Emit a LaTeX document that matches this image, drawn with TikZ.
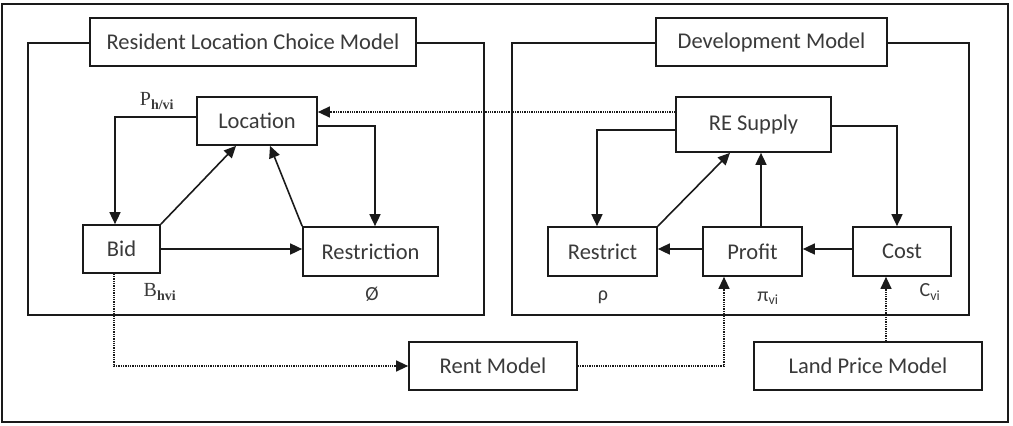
\documentclass[tikz,border=0pt]{standalone}
\usepackage{fontspec}
\setmainfont{Carlito}
\newfontfamily\serifface{Liberation Serif}
\usetikzlibrary{arrows.meta,calc,positioning}
\definecolor{inkLine}{HTML}{1A1A1A}
\definecolor{inkText}{HTML}{3A3A3A}
\tikzset{
  box/.style={draw=inkLine,line width=1.7pt,fill=white,inner sep=0pt,text=inkText,
    font=\fontsize{22.5}{27}\selectfont},
  grp/.style={draw=inkLine,line width=1.7pt},
  lbl/.style={inner sep=0pt,text=inkText,font=\fontsize{20}{24}\selectfont},
  arr/.style={-{Triangle[length=12pt,width=11pt]},line width=1.6pt,draw=inkLine},
  dotarr/.style={-{Triangle[length=12pt,width=11pt]},line width=1.3pt,densely dotted,draw=inkLine},
  dotln/.style={line width=1.3pt,densely dotted,draw=inkLine}
}

\begin{document}
\begin{tikzpicture}[x=1pt,y=-1pt]
  \useasboundingbox (0,0) rectangle (1013,426);
  \draw[line width=1.8pt,draw=inkLine] (2,4) rectangle (1008,422);

  % group frames
  \draw[grp] (28,43) rectangle (484,315);
  \draw[grp] (512,43) rectangle (969,315);
  \node[box,minimum width=326pt,minimum height=48pt] (resTitle) at (253,42) {Resident Location Choice Model};
  \node[box,minimum width=231pt,minimum height=48pt] (devTitle) at (771.5,42) {Development Model};

  % resident model
  \node[box,minimum width=120pt,minimum height=48pt] (loc) at (257,121) {Location};
  \node[box,minimum width=77pt,minimum height=48pt] (bid) at (121.5,249) {Bid};
  \node[box,minimum width=135pt,minimum height=49pt] (rst) at (370.5,251.5) {Restriction};

  % development model
  \node[box,minimum width=155pt,minimum height=55pt] (sup) at (753.5,124.5) {RE Supply};
  \node[box,minimum width=109pt,minimum height=49pt] (rsc) at (602.5,251.5) {Restrict};
  \node[box,minimum width=99pt,minimum height=49pt] (prf) at (752.5,251.5) {Profit};
  \node[box,minimum width=98pt,minimum height=49pt] (cost) at (902,251.5) {Cost};

  % outside models
  \node[box,minimum width=168pt,minimum height=48pt] (rent) at (493,366) {Rent Model};
  \node[box,minimum width=228pt,minimum height=48pt] (land) at (868,366) {Land Price Model};

  % variable labels
  \node[lbl] (pLbl) at (157,101) {\serifface P\textsubscript{\bfseries h/vi}};
  \node[lbl] (bLbl) at (160,292) {\serifface B\textsubscript{\bfseries hvi}};
  \node[lbl] (phiLbl) at (372,294) {Ø};
  \node[lbl] (rhoLbl) at (603,297) {ρ};
  \node[lbl] (piLbl) at (768,298) {π\textsubscript{vi}};
  \node[lbl] (cLbl) at (930,292) {C\textsubscript{vi}};

  \draw[arr] (loc.west |- 0,117) -| (bid.north -| 115,0);
  \draw[arr] (loc.east |- 0,126) -| (rst.north -| 375,0);
  \draw[arr] (bid.north east) -- (loc.south -| 236,0);
  \draw[arr] (rst.north west) -- (loc.south -| 270,0);
  \draw[arr] (bid.east |- 0,249) -- (rst.west |- 0,249);

  \draw[arr] (sup.west |- 0,130) -| (rsc.north -| 597,0);
  \draw[arr] (sup.east |- 0,126) -| (cost.north -| 897,0);
  \draw[arr] (rsc.north east) -- (sup.south -| 730,0);
  \draw[arr] (prf.north -| 761,0) -- (sup.south -| 761,0);
  \draw[arr] (prf.west |- 0,249) -- (rsc.east |- 0,249);
  \draw[arr] (cost.west |- 0,249) -- (prf.east |- 0,249);

  \draw[dotarr] (sup.west |- 0,112) -- (loc.east |- 0,112);
  \draw[dotarr] (bid.south -| 114,0) |- (rent.west);
  \draw[dotarr] (rent.east) -| (prf.south -| 724,0);
  \draw[dotarr] (land.north -| 886,0) -- (cost.south -| 886,0);
\end{tikzpicture}
\end{document}
